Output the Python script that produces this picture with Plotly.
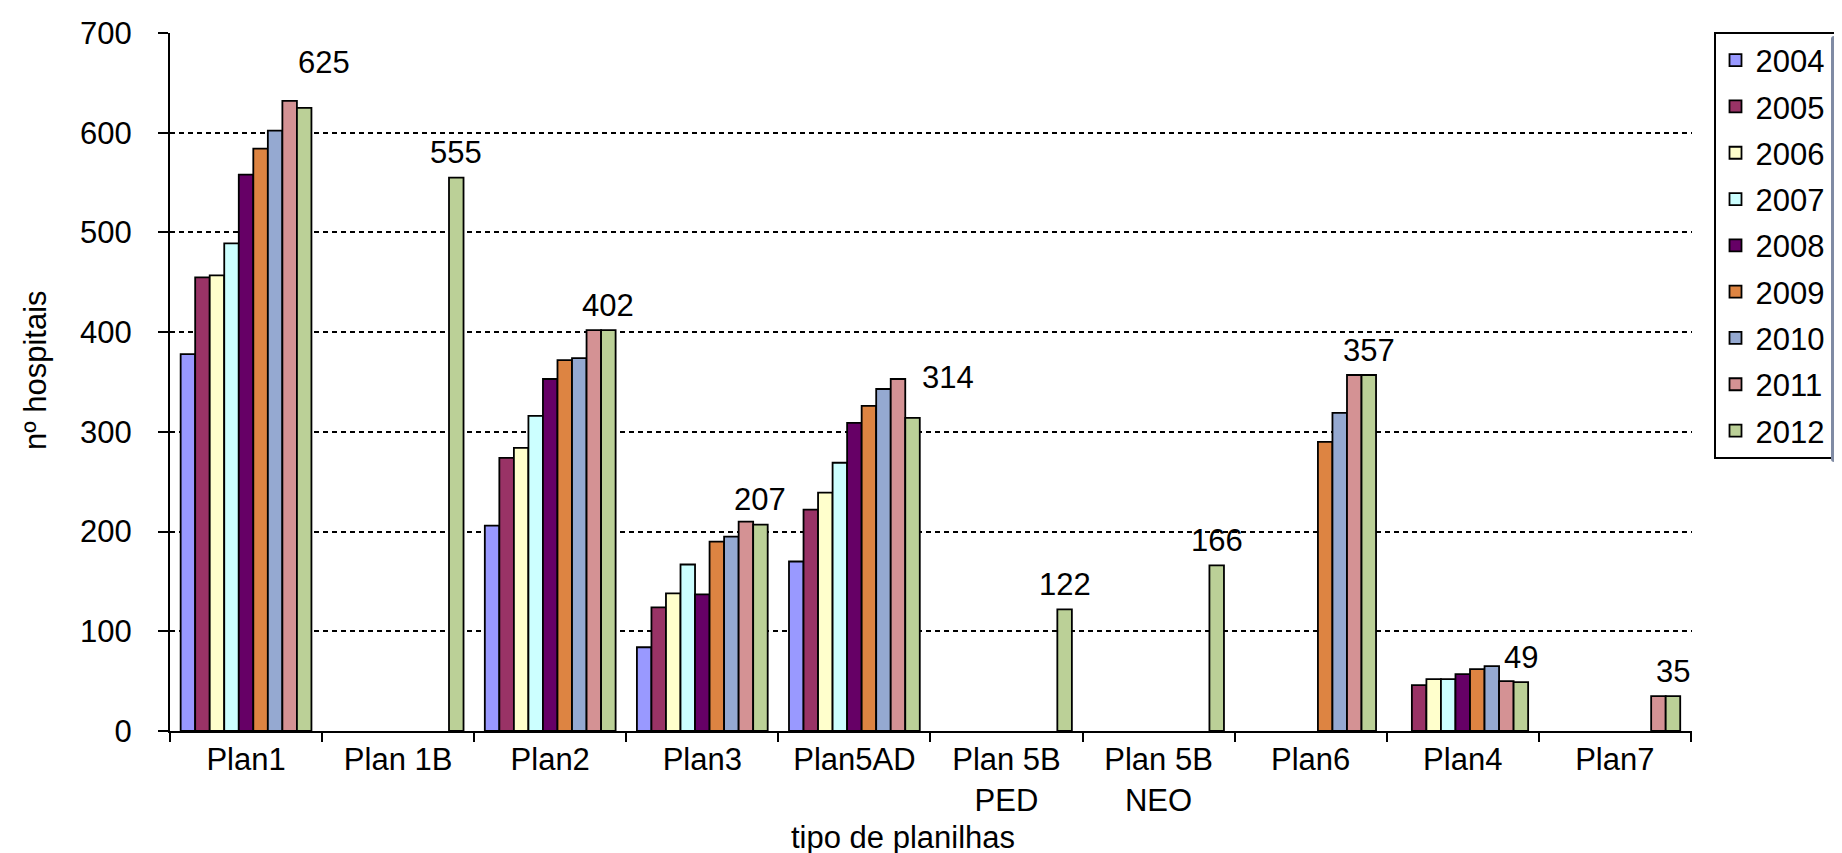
import plotly.graph_objects as go

categories = ["Plan1", "Plan 1B", "Plan2", "Plan3", "Plan5AD",
              "Plan 5B<br>PED", "Plan 5B<br>NEO", "Plan6", "Plan4", "Plan7"]
years = ["2004", "2005", "2006", "2007", "2008", "2009", "2010", "2011", "2012"]

v2004 = [378, None, 206, 84, 170, None, None, None, None, None]
v2005 = [455, None, 274, 124, 222, None, None, None, 46, None]
v2006 = [457, None, 284, 138, 239, None, None, None, 52, None]
v2007 = [489, None, 316, 167, 269, None, None, None, 52, None]
v2008 = [558, None, 353, 137, 309, None, None, None, 57, None]
v2009 = [584, None, 372, 190, 326, None, None, 290, 62, None]
v2010 = [602, None, 374, 195, 343, None, None, 319, 65, None]
v2011 = [632, None, 402, 210, 353, None, None, 357, 50, 35]
v2012 = [625, 555, 402, 207, 314, 122, 166, 357, 49, 35]

series = [v2004, v2005, v2006, v2007, v2008, v2009, v2010, v2011, v2012]
colors = ["#9999FF", "#993366", "#FFFFCC", "#CCFFFF", "#660066",
          "#DD8442", "#95A9D1", "#D49294", "#BBD097"]

FONT = "Liberation Sans, Arial, sans-serif"
FS = 31
W, H = 1842, 853
ML, MR, MT, MB = 162, 158, 25, 130
BARGAP = 0.14

fig = go.Figure()
for name, vals, col in zip(years, series, colors):
    fig.add_trace(go.Bar(
        name=name, x=categories, y=vals,
        marker=dict(color=col, line=dict(color="black", width=1.8)),
        legendgroup=name,
    ))

# data labels for 2012 series
plot_w = W - ML - MR
plot_h = H - MT - MB
bar_w = plot_w / len(categories) * (1 - BARGAP) / len(years)
label_extra = {"Plan1": (20, 20), "Plan5AD": (35, 15)}
for cat, v in zip(categories, v2012):
    dx, dy = label_extra.get(cat, (0, 0))
    fig.add_annotation(
        x=cat, y=v, xref="x", yref="y", text=str(v), showarrow=False,
        xanchor="center", yanchor="middle",
        xshift=4 * bar_w + dx, yshift=25 + dy,
        font=dict(family=FONT, size=FS, color="black"),
    )

# axis titles
fig.add_annotation(
    text="tipo de planilhas", xref="paper", yref="paper",
    x=(895 - ML) / plot_w, y=(723 - 829) / plot_h,
    showarrow=False, xanchor="center", yanchor="middle",
    font=dict(family=FONT, size=FS, color="black"),
)
fig.add_annotation(
    text="nº hospitais", xref="paper", yref="paper", textangle=-90,
    x=(27 - ML) / plot_w, y=(723 - 362) / plot_h,
    showarrow=False, xanchor="center", yanchor="middle",
    font=dict(family=FONT, size=FS, color="black"),
)

fig.update_layout(
    width=W, height=H,
    margin=dict(l=ML, r=MR, t=MT, b=MB, autoexpand=False),
    paper_bgcolor="white", plot_bgcolor="white",
    barmode="group", bargap=BARGAP, bargroupgap=0,
    font=dict(family=FONT, size=FS, color="black"),
    showlegend=True,
    legend=dict(
        x=(1706 - ML) / plot_w, xanchor="left",
        y=(723 - 24) / plot_h, yanchor="top",
        bordercolor="black", borderwidth=1.5, bgcolor="white",
        font=dict(family=FONT, size=FS, color="black"),
        tracegroupgap=3, itemwidth=30,
    ),
    xaxis=dict(
        type="category", showline=True, linecolor="black", linewidth=2,
        ticks="outside", tickson="boundaries", ticklen=9, tickwidth=1.5,
        tickcolor="black", showgrid=False, ticklabelstandoff=0,
        tickfont=dict(family=FONT, size=FS, color="black"),
    ),
    yaxis=dict(
        range=[0, 700], tickvals=[0, 100, 200, 300, 400, 500, 600, 700],
        showline=True, linecolor="black", linewidth=2,
        ticks="outside", ticklen=10, tickwidth=1.5, tickcolor="black",
        showgrid=True, gridcolor="black", gridwidth=1.5, griddash="5px,4px",
        zeroline=False, ticklabelstandoff=20,
        tickfont=dict(family=FONT, size=FS, color="black"),
    ),
)

fig.write_html("out.html")
